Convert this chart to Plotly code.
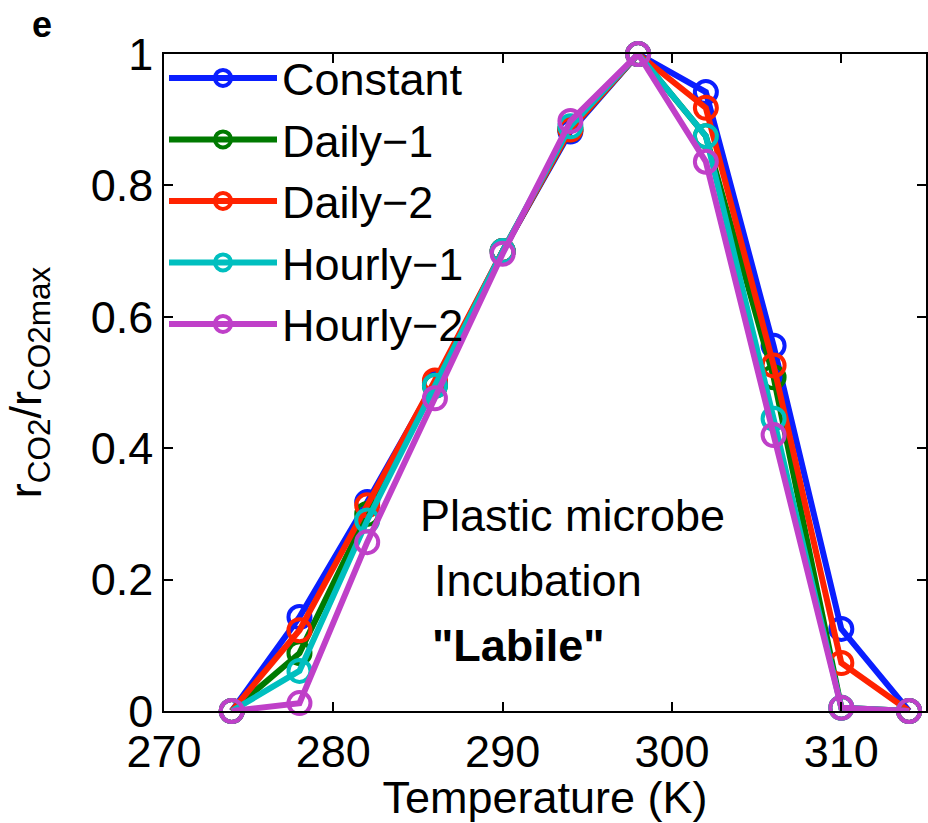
import plotly.graph_objects as go

temperature = [274, 278, 282, 286, 290, 294, 298, 302, 306, 310, 314]
constant = [0.0, 0.143, 0.318, 0.50, 0.70, 0.882, 1.0, 0.942, 0.556, 0.125, 0.0]
daily_1 = [0.0, 0.088, 0.300, 0.495, 0.700, 0.885, 1.0, 0.875, 0.508, 0.005, 0.0]
daily_2 = [0.0, 0.123, 0.313, 0.503, 0.700, 0.885, 1.0, 0.918, 0.526, 0.073, 0.0]
hourly_1 = [0.0, 0.061, 0.290, 0.495, 0.700, 0.890, 1.0, 0.875, 0.445, 0.005, 0.0]
hourly_2 = [0.0, 0.012, 0.257, 0.476, 0.696, 0.898, 1.0, 0.836, 0.420, 0.005, 0.0]

series_names = ["Constant", "Daily\u22121", "Daily\u22122", "Hourly\u22121", "Hourly\u22122"]
series_values = [constant, daily_1, daily_2, hourly_1, hourly_2]
colors = ["#0a1eff", "#007a00", "#ff2200", "#00bfbf", "#bf40c8"]

x_ticks = [270, 280, 290, 300, 310]
y_ticks = [0, 0.2, 0.4, 0.6, 0.8, 1]
y_tick_labels = ["0", "0.2", "0.4", "0.6", "0.8", "1"]

FONT = "Liberation Sans, Arial, sans-serif"

fig = go.Figure()
for i, (name, vals, col) in enumerate(zip(series_names, series_values, colors)):
    fig.add_trace(go.Scatter(
        x=temperature, y=vals, name=name, mode="lines+markers",
        line=dict(color=col, width=6),
        marker=dict(symbol="circle-open", size=22, color=col, line=dict(width=4, color=col)),
        legendgroup=f"g{i}",
        cliponaxis=False,
    ))

axis_common = dict(
    showline=True, linecolor="black", linewidth=1.5, mirror="ticks",
    ticks="inside", ticklen=9, tickwidth=1.5, tickcolor="black",
    showgrid=False, zeroline=False,
    tickfont=dict(family=FONT, size=45, color="black"),
)

fig.update_layout(
    width=928, height=823,
    margin=dict(l=164, r=0, t=54, b=112),
    paper_bgcolor="white", plot_bgcolor="white",
    font=dict(family=FONT, size=45, color="black"),
    xaxis=dict(range=[270, 315], tickvals=x_ticks, ticktext=[str(v) for v in x_ticks],
               title=dict(text="Temperature (K)", font=dict(family=FONT, size=45), standoff=0),
               **axis_common),
    yaxis=dict(range=[0, 1], tickvals=y_ticks, ticktext=y_tick_labels,
               title=dict(text="r<sub>CO2</sub>/r<sub>CO2max</sub>", font=dict(family=FONT, size=45), standoff=36),
               **axis_common),
    showlegend=True,
    legend=dict(x=0.0, y=1.018, xanchor="left", yanchor="top",
                bgcolor="rgba(0,0,0,0)", borderwidth=0,
                font=dict(family=FONT, size=45, color="black"),
                traceorder="grouped", tracegroupgap=0, itemwidth=108),
    annotations=[
        dict(text="Plastic microbe", x=285.0, y=0.298, xref="x", yref="y", xanchor="left", yanchor="middle",
             showarrow=False, font=dict(family=FONT, size=45, color="black")),
        dict(text="Incubation", x=285.8, y=0.199, xref="x", yref="y", xanchor="left", yanchor="middle",
             showarrow=False, font=dict(family=FONT, size=45, color="black")),
        dict(text="<b>\"Labile\"</b>", x=285.7, y=0.10, xref="x", yref="y", xanchor="left", yanchor="middle",
             showarrow=False, font=dict(family=FONT, size=45, color="black")),
        dict(text="<b>e</b>", x=-0.16, y=1.045, xref="paper", yref="paper", xanchor="center", yanchor="middle",
             showarrow=False, font=dict(family=FONT, size=36, color="black")),
    ],
)

fig.write_html("out.html")
